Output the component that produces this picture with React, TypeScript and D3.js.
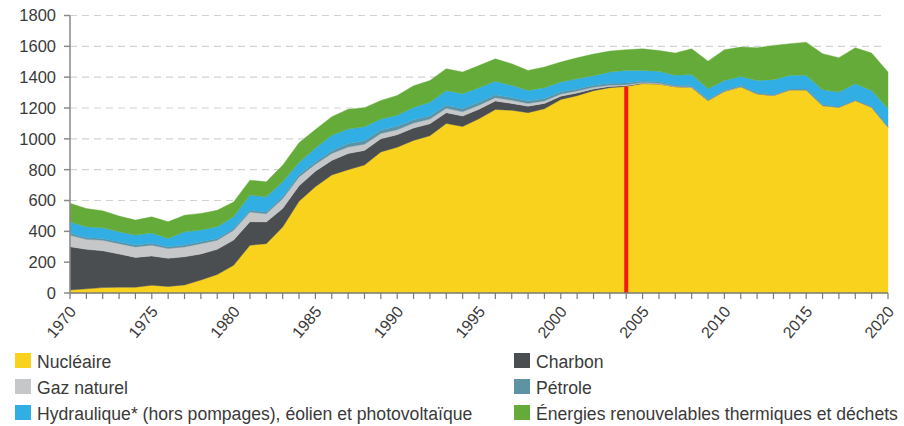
import React from "react";
import * as d3 from "d3";

const years = d3.range(1970, 2021);

const nucleaire = [
  20, 27, 35, 38, 38, 50, 42, 52, 84, 120,
  180, 310, 320, 428, 595, 690, 765, 800, 830, 915,
  945, 990, 1020, 1100, 1080, 1130, 1190, 1185, 1170, 1195,
  1255, 1280, 1312, 1332, 1340, 1358, 1355, 1338, 1333, 1248,
  1308, 1338, 1292, 1281, 1318, 1318, 1216, 1205, 1249, 1205,
  1076,
];
const charbon = [
  280, 256, 239, 215, 193, 190, 183, 183, 169, 163,
  163, 152, 141, 120, 100, 100, 95, 105, 95, 85,
  82, 80, 78, 70, 68, 62, 55, 45, 42, 35,
  22, 18, 12, 8, 5, 2, 1, 0, 0, 0,
  0, 0, 0, 0, 0, 0, 0, 0, 0, 0,
  0,
];
const gaz = [
  75, 65, 68, 67, 68, 70, 63, 64, 67, 59,
  64, 63, 53, 64, 58, 45, 45, 42, 40, 35,
  32, 32, 30, 28, 28, 26, 22, 20, 18, 16,
  14, 12, 10, 8, 6, 5, 4, 3, 3, 2,
  2, 2, 1, 1, 0, 0, 0, 0, 0, 0,
  0,
];
const petrole = [
  12, 12, 12, 12, 12, 12, 12, 12, 12, 12,
  12, 12, 12, 12, 15, 15, 18, 22, 22, 22,
  22, 22, 22, 20, 20, 20, 19, 18, 17, 16,
  15, 14, 13, 12, 11, 10, 9, 8, 8, 7,
  6, 6, 6, 5, 5, 5, 5, 5, 5, 5,
  5,
];
const hydraulique = [
  75, 69, 69, 65, 65, 68, 54, 86, 76, 75,
  75, 98, 98, 97, 78, 90, 100, 95, 92, 72,
  72, 80, 88, 95, 97, 94, 87, 79, 67, 70,
  62, 66, 63, 73, 82, 69, 70, 63, 74, 68,
  63, 59, 80, 97, 89, 89, 98, 93, 104, 104,
  115,
];
const enrThermiques = [
  120, 119, 110, 102, 97, 104, 108, 108, 108, 108,
  97, 97, 97, 108, 128, 120, 120, 128, 122, 120,
  128, 140, 140, 142, 140, 144, 146, 140, 130, 134,
  130, 136, 140, 136, 134, 140, 134, 144, 166, 179,
  199, 190, 212, 222, 205, 215, 233, 223, 233, 242,
  237,
];

const yTicks = [0, 200, 400, 600, 800, 1000, 1200, 1400, 1600, 1800];
const xLabelYears = [1970, 1975, 1980, 1985, 1990, 1995, 2000, 2005, 2010, 2015, 2020];
const markerYear = 2004;

const seriesKeys = ["nucleaire", "charbon", "gaz", "petrole", "hydraulique", "enr"];
const seriesLabels: Record<string, string> = {
  nucleaire: "Nucléaire",
  charbon: "Charbon",
  gaz: "Gaz naturel",
  petrole: "Pétrole",
  hydraulique: "Hydraulique* (hors pompages), éolien et photovoltaïque",
  enr: "Énergies renouvelables thermiques et déchets",
};
const colors: Record<string, string> = {
  nucleaire: "#f9d21e",
  charbon: "#4b4e50",
  gaz: "#c6c7c9",
  petrole: "#5e93a3",
  hydraulique: "#31aee3",
  enr: "#64ab39",
};
const legendOrder = ["nucleaire", "charbon", "gaz", "petrole", "hydraulique", "enr"];

export default function App() {
  const W = 904, H = 426;
  const x = d3.scaleLinear().domain([1970, 2020]).range([70, 888]);
  const y = d3.scaleLinear().domain([0, 1800]).range([293, 15.5]);

  const rows = years.map((yr, i) => ({
    year: yr,
    nucleaire: nucleaire[i],
    charbon: charbon[i],
    gaz: gaz[i],
    petrole: petrole[i],
    hydraulique: hydraulique[i],
    enr: enrThermiques[i],
  }));
  const stacked = d3.stack<any>().keys(seriesKeys)(rows);
  const area = d3
    .area<any>()
    .x((d) => x(d.data.year))
    .y0((d) => y(d[0]))
    .y1((d) => y(d[1]))
    .curve(d3.curveLinear);

  const font = "'Liberation Sans', Arial, Helvetica, sans-serif";
  const mi = years.indexOf(markerYear);

  return (
    <svg
      width={W}
      height={H}
      style={{ position: "absolute", left: 0, top: 0, background: "#fff" }}
      fontFamily={font}
    >
      {yTicks.filter((t) => t > 0).map((t) => (
        <line
          key={"g" + t}
          x1={x(1970)}
          x2={886}
          y1={y(t)}
          y2={y(t)}
          stroke="#d2d2d2"
          strokeWidth={1.2}
          strokeDasharray="7,5"
        />
      ))}
      {stacked.map((s) => (
        <path key={s.key} d={area(s) || ""} fill={colors[s.key]} stroke={colors[s.key]} strokeWidth={0.4} />
      ))}
      <line
        x1={x(markerYear)}
        x2={x(markerYear)}
        y1={y(0)}
        y2={y(nucleaire[mi])}
        stroke="#f21a10"
        strokeWidth={4}
      />
      <line x1={70} x2={70} y1={y(1800)} y2={y(0)} stroke="#8a8a8a" strokeWidth={1.5} />
      {yTicks.map((t) => (
        <g key={"y" + t}>
          <line x1={64} x2={70} y1={y(t)} y2={y(t)} stroke="#8a8a8a" strokeWidth={1.5} />
          <text x={56} y={y(t)} dy="0.36em" textAnchor="end" fontSize={16.5} fill="#3a3a3a">
            {t}
          </text>
        </g>
      ))}
      <line x1={x(1970)} x2={x(2020)} y1={y(0)} y2={y(0)} stroke="#7a7a7a" strokeWidth={1.5} />
      {years.map((yr) => (
        <line key={"xt" + yr} x1={x(yr)} x2={x(yr)} y1={y(0)} y2={y(0) + 6} stroke="#7a7a7a" strokeWidth={1.2} />
      ))}
      {xLabelYears.map((yr) => (
        <text
          key={"xl" + yr}
          transform={`translate(${x(yr) + 7},${312}) rotate(-50)`}
          textAnchor="end"
          fontSize={16}
          fill="#3a3a3a"
        >
          {yr}
        </text>
      ))}
      {legendOrder.map((k, i) => {
        const col = i % 2;
        const row = Math.floor(i / 2);
        const lx = col === 0 ? 15 : 514;
        const ly = 353 + row * 26;
        return (
          <g key={"lg" + k}>
            <rect x={lx} y={ly} width={16} height={15} fill={colors[k]} />
            <text x={lx + 22} y={ly + 14.5} fontSize={17.6} fill="#3a3a3a">
              {seriesLabels[k]}
            </text>
          </g>
        );
      })}
    </svg>
  );
}
